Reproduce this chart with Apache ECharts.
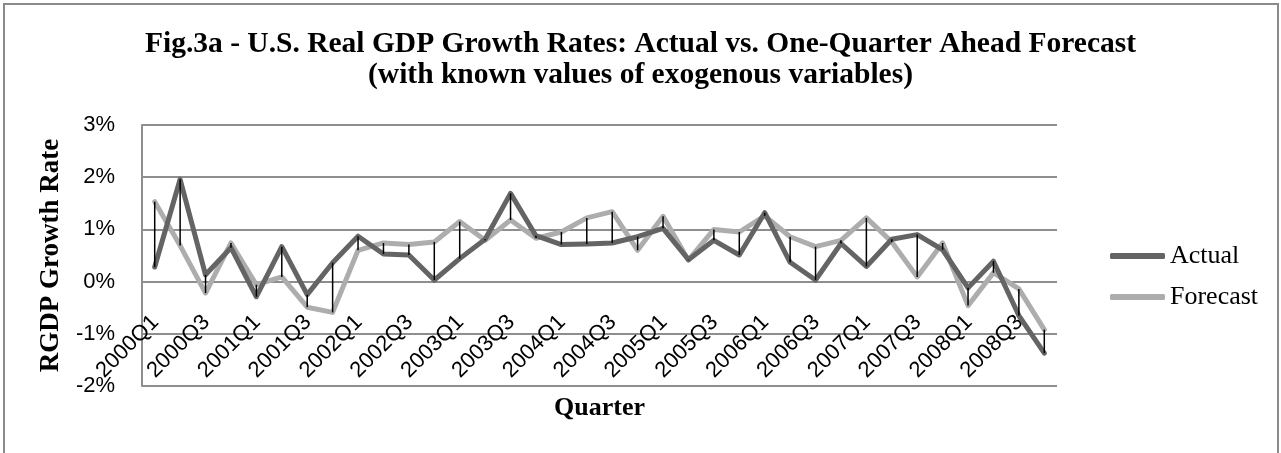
<!DOCTYPE html>
<html>
<head>
<meta charset="utf-8">
<script src="https://cdn.jsdelivr.net/npm/echarts@6/dist/echarts.min.js"></script>
<style>
  html, body { margin: 0; padding: 0; background: #fff; }
  #chart { width: 1281px; height: 453px; }
</style>
</head>
<body>
<div id="chart"></div>
<script>
// quarters 2000Q1 .. 2008Q4
const quarters = []
for (let y = 2000; y <= 2008; y++) {
  for (let q = 1; q <= 4; q++) quarters.push(y + 'Q' + q)
}
// growth rates in %
const actual = [
  0.28, 1.96, 0.13, 0.65, -0.29, 0.67, -0.25, 0.36, 0.87,
  0.53, 0.51, 0.03, 0.44, 0.81, 1.69, 0.88, 0.71, 0.72,
  0.74, 0.86, 1.02, 0.42, 0.79, 0.51, 1.32, 0.37, 0.03,
  0.73, 0.29, 0.81, 0.90, 0.61, -0.12, 0.39, -0.65, -1.37
]
const forecast = [
  1.53, 0.69, -0.22, 0.74, -0.06, 0.09, -0.49, -0.59, 0.60,
  0.74, 0.71, 0.76, 1.15, 0.79, 1.18, 0.83, 0.95, 1.22,
  1.34, 0.60, 1.25, 0.41, 1.00, 0.95, 1.26, 0.86, 0.67,
  0.79, 1.22, 0.76, 0.09, 0.74, -0.46, 0.17, -0.14, -0.92
]
const titles = ['Actual', 'Forecast']

const gridColor = '#8e8e8e'
const sans = 'Liberation Sans'
const serif = 'Liberation Serif'

const chart = echarts.init(document.getElementById('chart'))
chart.setOption({
  animation: false,
  backgroundColor: '#fff',
  title: {
    text: 'Fig.3a - U.S. Real GDP Growth Rates: Actual vs. One-Quarter Ahead Forecast\n(with known values of exogenous variables)',
    left: 'center',
    top: 24,
    textStyle: {
      fontFamily: serif,
      fontWeight: 'bold',
      fontSize: 29.5,
      lineHeight: 31,
      color: '#000',
      align: 'center'
    }
  },
  graphic: [{
    type: 'rect',
    shape: { x: 4, y: 4, width: 1274, height: 470 },
    style: { fill: 'none', stroke: '#8a8a8a', lineWidth: 2 },
    silent: true
  }],
  grid: { left: 142, right: 224, top: 125, bottom: 67, containLabel: false, outerBoundsMode: 'none' },
  legend: {
    data: titles,
    orient: 'vertical',
    left: 1105,
    top: 238,
    itemWidth: 55,
    itemHeight: 6,
    itemGap: 15,
    icon: 'roundRect',
    textStyle: { fontFamily: serif, fontSize: 26, color: '#000' }
  },
  xAxis: {
    type: 'category',
    data: quarters,
    boundaryGap: true,
    name: 'Quarter',
    nameLocation: 'middle',
    nameGap: 9,
    nameMoveOverlap: false,
    nameTextStyle: { fontFamily: serif, fontWeight: 'bold', fontSize: 26, color: '#000', verticalAlign: 'top' },
    // labels sit just under the 0% line, like the source chart
    axisLine: { show: false },
    axisTick: { show: false },
    axisLabel: {
      interval: 1,
      rotate: 45,
      align: 'right',
      verticalAlign: 'top',
      margin: -82,
      padding: [0, 10, 0, 0],
      hideOverlap: false,
      fontFamily: sans,
      fontSize: 22,
      color: '#000'
    },
    splitLine: { show: false }
  },
  yAxis: {
    type: 'value',
    min: -2,
    max: 3,
    interval: 1,
    name: 'RGDP Growth Rate',
    nameLocation: 'middle',
    nameGap: 73,
    nameTextStyle: { fontFamily: serif, fontWeight: 'bold', fontSize: 27, color: '#000' },
    axisLine: { show: true, lineStyle: { color: gridColor, width: 2 } },
    axisTick: { show: false },
    axisLabel: {
      formatter: '{value}%',
      margin: 27,
      fontFamily: sans,
      fontSize: 22,
      color: '#000'
    },
    splitLine: { show: true, lineStyle: { color: gridColor, width: 2 } }
  },
  series: [
    {
      name: 'Actual',
      type: 'line',
      data: actual,
      symbol: 'none',
      color: '#646464',
      lineStyle: { width: 5, color: '#646464', cap: 'round', join: 'round' },
      z: 3
    },
    {
      name: 'Forecast',
      type: 'line',
      data: forecast,
      symbol: 'none',
      color: '#adadad',
      lineStyle: { width: 5, color: '#adadad', cap: 'round', join: 'round' },
      z: 2
    },
    {
      // high-low lines between actual and forecast
      name: 'hilo',
      type: 'custom',
      data: quarters.map((q, i) => [i, actual[i], forecast[i]]),
      encode: { x: 0, y: [1, 2] },
      renderItem: (params, api) => {
        const a = api.coord([api.value(0), api.value(1)])
        const b = api.coord([api.value(0), api.value(2)])
        return {
          type: 'line',
          shape: { x1: a[0], y1: a[1], x2: b[0], y2: b[1] },
          style: { stroke: '#000', lineWidth: 1.5 }
        }
      },
      z: 5
    }
  ]
})
</script>
</body>
</html>
